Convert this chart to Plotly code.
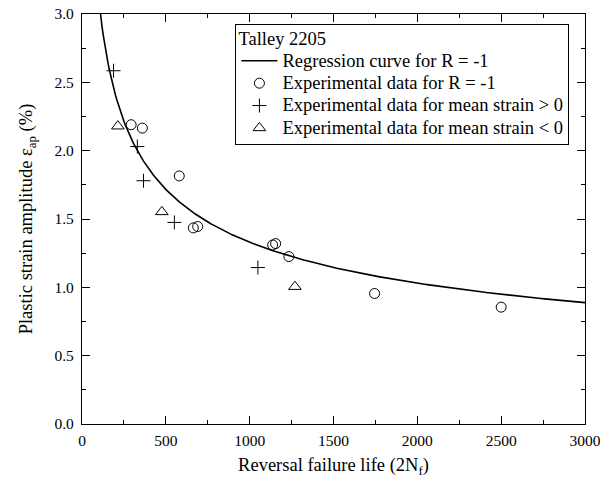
import numpy as np
import plotly.graph_objects as go

# Talley 2205 low-cycle fatigue data
# R = -1 tests
life_r1 = [293, 360, 580, 664, 690, 1137, 1155, 1234, 1745, 2500]
strain_r1 = [2.19, 2.165, 1.815, 1.435, 1.445, 1.31, 1.32, 1.225, 0.955, 0.855]
# tests with positive mean strain
life_pos = [188, 330, 367, 551, 1049]
strain_pos = [2.585, 2.03, 1.78, 1.475, 1.145]
# tests with negative mean strain
life_neg = [214, 476, 1270]
strain_neg = [2.179, 1.552, 1.005]

# Coffin-Manson type regression for R = -1: eps_ap = A * (2Nf)^b
coef_a = 16.9
coef_b = -0.368

fit_x = np.linspace(90, 3000, 400)
fit_y = coef_a * fit_x ** coef_b

FONT = "Liberation Serif, Times New Roman, Times, serif"
LEG = 18.5


def big(s):
    return f'<span style="font-size:{LEG}px">{s}</span>'


fig = go.Figure()
fig.add_trace(go.Scatter(
    x=fit_x, y=fit_y, mode="lines",
    line=dict(color="black", width=1.6),
    name=big("Regression curve for R = -1"),
))
fig.add_trace(go.Scatter(
    x=life_r1, y=strain_r1, mode="markers",
    marker=dict(symbol="circle-open", size=10, color="black", line=dict(width=1)),
    name=big("Experimental data for R = -1"),
))
fig.add_trace(go.Scatter(
    x=life_pos, y=strain_pos, mode="markers",
    marker=dict(symbol="cross-thin-open", size=10, color="black", line=dict(width=1)),
    name=big("Experimental data for mean strain > 0"),
))
fig.add_trace(go.Scatter(
    x=life_neg, y=strain_neg, mode="markers",
    marker=dict(symbol="triangle-up-open", size=11, color="black", line=dict(width=1)),
    name=big("Experimental data for mean strain < 0"),
))

axis_common = dict(
    showline=True, linecolor="black", linewidth=1.3, mirror="allticks",
    ticks="inside", ticklen=8, tickwidth=1.1, tickcolor="black",
    showgrid=False, zeroline=False, ticklabeloverflow="allow", automargin=False,
    tickfont=dict(family=FONT, size=15.5, color="black"),
    title_font=dict(family=FONT, size=18.5, color="black"),
)

fig.update_xaxes(
    range=[0, 3000], tickmode="linear", tick0=0, dtick=500,
    minor=dict(ticks="inside", ticklen=4, dtick=250, tickcolor="black", tickwidth=1.1),
    title_text="Reversal failure life (2N<sub>f</sub>)", title_standoff=10,
    ticklabelstandoff=2,
    **axis_common,
)
fig.update_yaxes(
    range=[0, 3], tickmode="linear", tick0=0, dtick=0.5, tickformat=".1f",
    minor=dict(ticks="inside", ticklen=4, dtick=0.25, tickcolor="black", tickwidth=1.1),
    title_text="Plastic strain amplitude \u03b5<sub>ap</sub> (%)", title_standoff=16,
    ticklabelstandoff=4,
    **axis_common,
)

fig.update_layout(
    width=600, height=483,
    margin=dict(l=82, r=15, t=14, b=59),
    paper_bgcolor="white", plot_bgcolor="white",
    font=dict(family=FONT, color="black"),
    showlegend=True,
    legend=dict(
        x=0.305, y=0.975, xanchor="left", yanchor="top",
        bgcolor="white", bordercolor="black", borderwidth=1,
        font=dict(family=FONT, size=14.9, color="black"),
        title=dict(text=big("Talley 2205"), font=dict(family=FONT, size=14.9, color="black")),
        itemwidth=36, tracegroupgap=0,
    ),
    annotations=[dict(
        text="(a)", x=0.5, y=1, xref="paper", yref="paper",
        xanchor="center", yanchor="bottom", yshift=12, showarrow=False,
        font=dict(family=FONT, size=18.5, color="black"),
    )],
)

fig.write_html("out.html")
